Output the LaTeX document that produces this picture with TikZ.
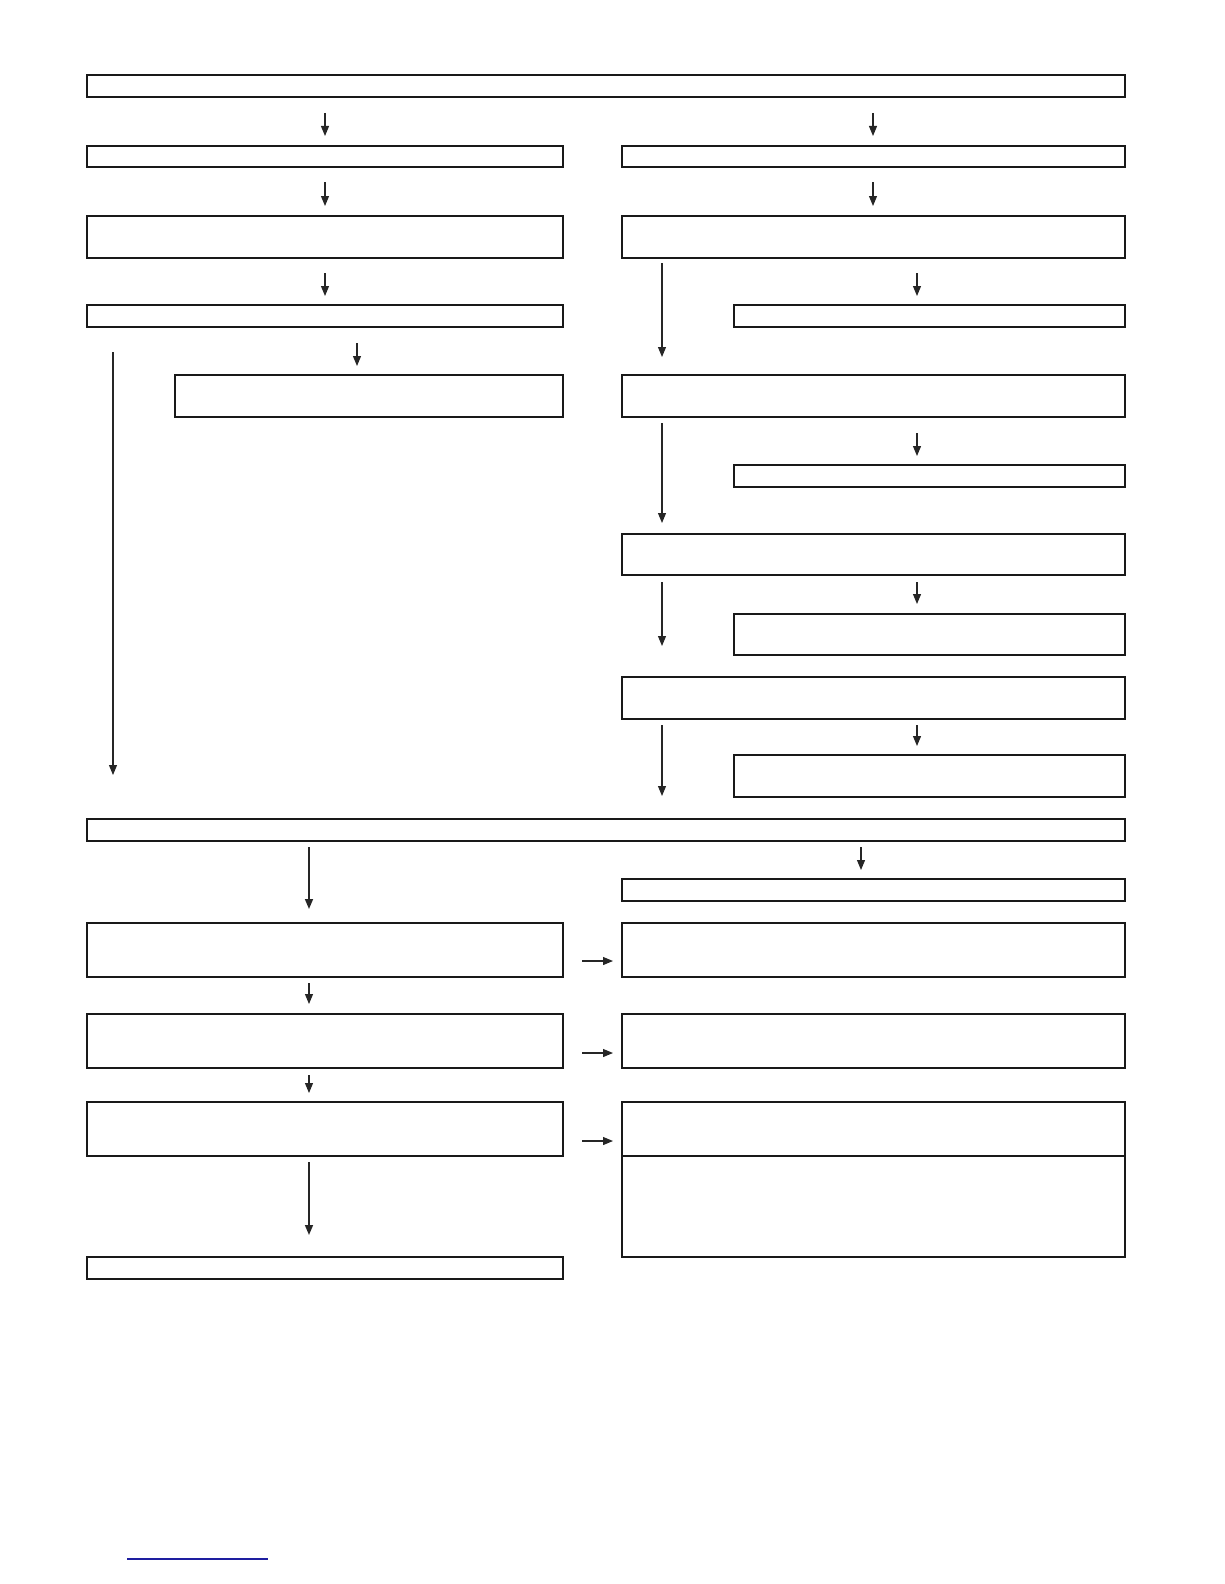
\documentclass[tikz,border=0pt]{standalone}
\usetikzlibrary{arrows.meta,calc}
\begin{document}
\begin{tikzpicture}[x=1pt,y=-1pt,
  box/.style={draw=black!90,line width=1.1pt,inner sep=0pt,outer sep=0pt,anchor=north west,fill=none},
  arr/.style={draw=black!85,line width=1.1pt,-{Triangle[width=8pt,length=10pt]}},
  thickarr/.style={arr,line width=1.6pt}]
\useasboundingbox (0,0) rectangle (1224,1584);
% boxes: \node at top-left corner
\newcommand\bx[5]{\node[box,minimum width=#4pt,minimum height=#5pt] (#1) at (#2,#3) {};}
\bx{T}{87}{75}{1038}{22}
\bx{L2}{87}{146}{476}{21}
\bx{R2}{622}{146}{503}{21}
\bx{L3}{87}{216}{476}{42}
\bx{R3}{622}{216}{503}{42}
\bx{L4}{87}{305}{476}{22}
\bx{R4}{734}{305}{391}{22}
\bx{L5}{175}{375}{388}{42}
\bx{R5}{622}{375}{503}{42}
\bx{R6}{734}{465}{391}{22}
\bx{R7}{622}{534}{503}{41}
\bx{R8}{734}{614}{391}{41}
\bx{R9}{622}{677}{503}{42}
\bx{R10}{734}{755}{391}{42}
\bx{F}{87}{819}{1038}{22}
\bx{RF}{622}{879}{503}{22}
\bx{L6}{87}{923}{476}{54}
\bx{R11}{622}{923}{503}{54}
\bx{L7}{87}{1014}{476}{54}
\bx{R12}{622}{1014}{503}{54}
\bx{L8}{87}{1102}{476}{54}
\bx{R13}{622}{1102}{503}{54}
\bx{R14}{622}{1156}{503}{101}
\bx{L9}{87}{1257}{476}{22}
% x positions of connectors
\coordinate (xa) at (325,0);
\coordinate (xe) at (873,0);
\coordinate (xl) at (113,0);
\coordinate (xm) at (357,0);
\coordinate (xr) at (662,0);
\coordinate (xs) at (917,0);
\coordinate (xb) at (309,0);
\coordinate (xc) at (861,0);
% top part
\draw[arr,shorten <=16pt,shorten >=10pt] (T.south -| xa) -- (L2.north -| xa);
\draw[arr,shorten <=16pt,shorten >=10pt] (T.south -| xe) -- (R2.north -| xe);
\draw[arr,shorten <=15pt,shorten >=10pt] (L2.south -| xa) -- (L3.north -| xa);
\draw[arr,shorten <=15pt,shorten >=10pt] (R2.south -| xe) -- (R3.north -| xe);
\draw[arr,shorten <=15pt,shorten >=9pt] (L3.south -| xa) -- (L4.north -| xa);
\draw[arr,shorten <=15pt,shorten >=9pt] (R3.south -| xs) -- (R4.north -| xs);
\draw[arr,shorten <=5pt,shorten >=18pt] (R3.south -| xr) -- (R5.north -| xr);
\draw[arr,shorten <=16pt,shorten >=9pt] (L4.south -| xm) -- (L5.north -| xm);
\draw[arr,shorten <=25pt,shorten >=44pt] (L4.south -| xl) -- (F.north -| xl);
\draw[arr,shorten <=16pt,shorten >=9pt] (R5.south -| xs) -- (R6.north -| xs);
\draw[arr,shorten <=6pt,shorten >=11pt] (R5.south -| xr) -- (R7.north -| xr);
\draw[arr,shorten <=7pt,shorten >=10pt] (R7.south -| xs) -- (R8.north -| xs);
\draw[arr,shorten <=7pt,shorten >=31pt] (R7.south -| xr) -- (R9.north -| xr);
\draw[arr,shorten <=6pt,shorten >=9pt] (R9.south -| xs) -- (R10.north -| xs);
\draw[arr,shorten <=6pt,shorten >=23pt] (R9.south -| xr) -- (F.north -| xr);
% bottom part
\draw[thickarr,shorten <=6pt,shorten >=14pt] (F.south -| xb) -- (L6.north -| xb);
\draw[arr,shorten <=6pt,shorten >=9pt] (F.south -| xc) -- (RF.north -| xc);
\draw[arr,shorten <=6pt,shorten >=10pt] (L6.south -| xb) -- (L7.north -| xb);
\draw[arr,shorten <=7pt,shorten >=9pt] (L7.south -| xb) -- (L8.north -| xb);
\draw[thickarr,shorten <=6pt,shorten >=22pt] (L8.south -| xb) -- (L9.north -| xb);
\draw[arr,shorten <=19pt,shorten >=9pt] ([yshift=-11pt]L6.east) -- ([yshift=-11pt]L6.east -| R11.west);
\draw[arr,shorten <=19pt,shorten >=9pt] ([yshift=-12pt]L7.east) -- ([yshift=-12pt]L7.east -| R12.west);
\draw[arr,shorten <=19pt,shorten >=9pt] ([yshift=-12pt]L8.east) -- ([yshift=-12pt]L8.east -| R13.west);
% blue rule at the foot
\definecolor{footblue}{RGB}{30,30,160}
\draw[footblue,line width=1.3pt] (127,1559) -- (268,1559);
\end{tikzpicture}
\end{document}
